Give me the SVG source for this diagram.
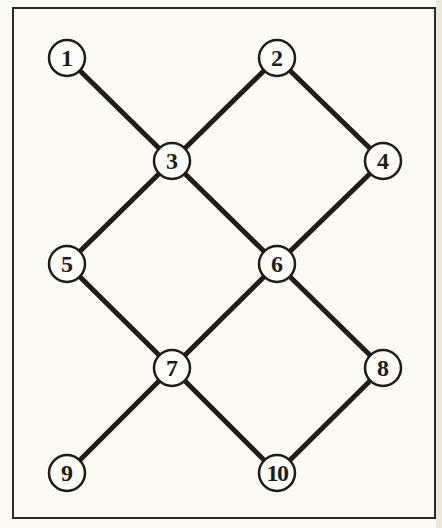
<svg xmlns="http://www.w3.org/2000/svg" width="442" height="528" viewBox="0 0 442 528">
<style>
.e{stroke:#1f1c1a;stroke-width:5;stroke-linecap:round}
.n circle{fill:#fdfcf8;stroke:#1f1c1a;stroke-width:2.5}
.n text{font-family:"Liberation Serif",serif;font-size:24px;font-weight:bold;fill:#1f1c1a;text-anchor:middle;dominant-baseline:central}
</style>
<rect width="442" height="528" fill="#fbfaf5"/>
<rect x="436" y="0" width="6" height="528" fill="#efe6d6"/>
<rect x="13" y="8" width="422" height="510" fill="none" stroke="#2a2725" stroke-width="2"/>
<g id="connectors">
<line class="e" x1="67" y1="58" x2="172" y2="161"/>
<line class="e" x1="277" y1="58" x2="172" y2="161"/>
<line class="e" x1="277" y1="58" x2="383" y2="161"/>
<line class="e" x1="172" y1="161" x2="277" y2="264"/>
<line class="e" x1="172" y1="161" x2="67" y2="264"/>
<line class="e" x1="383" y1="161" x2="277" y2="264"/>
<line class="e" x1="67" y1="264" x2="172" y2="368"/>
<line class="e" x1="277" y1="264" x2="172" y2="368"/>
<line class="e" x1="277" y1="264" x2="383" y2="368"/>
<line class="e" x1="172" y1="368" x2="67" y2="473"/>
<line class="e" x1="172" y1="368" x2="277" y2="473"/>
<line class="e" x1="383" y1="368" x2="277" y2="473"/>
</g>
<g id="n1" class="n"><circle cx="67" cy="58" r="18"/><text x="67" y="58">1</text></g>
<g id="n2" class="n"><circle cx="277" cy="58" r="18"/><text x="277" y="58">2</text></g>
<g id="n3" class="n"><circle cx="172" cy="161" r="18"/><text x="172" y="161">3</text></g>
<g id="n4" class="n"><circle cx="383" cy="161" r="18"/><text x="383" y="161">4</text></g>
<g id="n5" class="n"><circle cx="67" cy="264" r="18"/><text x="67" y="264">5</text></g>
<g id="n6" class="n"><circle cx="277" cy="264" r="18"/><text x="277" y="264">6</text></g>
<g id="n7" class="n"><circle cx="172" cy="368" r="18"/><text x="172" y="368">7</text></g>
<g id="n8" class="n"><circle cx="383" cy="368" r="18"/><text x="383" y="368">8</text></g>
<g id="n9" class="n"><circle cx="67" cy="473" r="18"/><text x="67" y="473">9</text></g>
<g id="n10" class="n"><circle cx="277" cy="473" r="18"/><text x="277" y="473" letter-spacing="-1.5">10</text></g>
</svg>
